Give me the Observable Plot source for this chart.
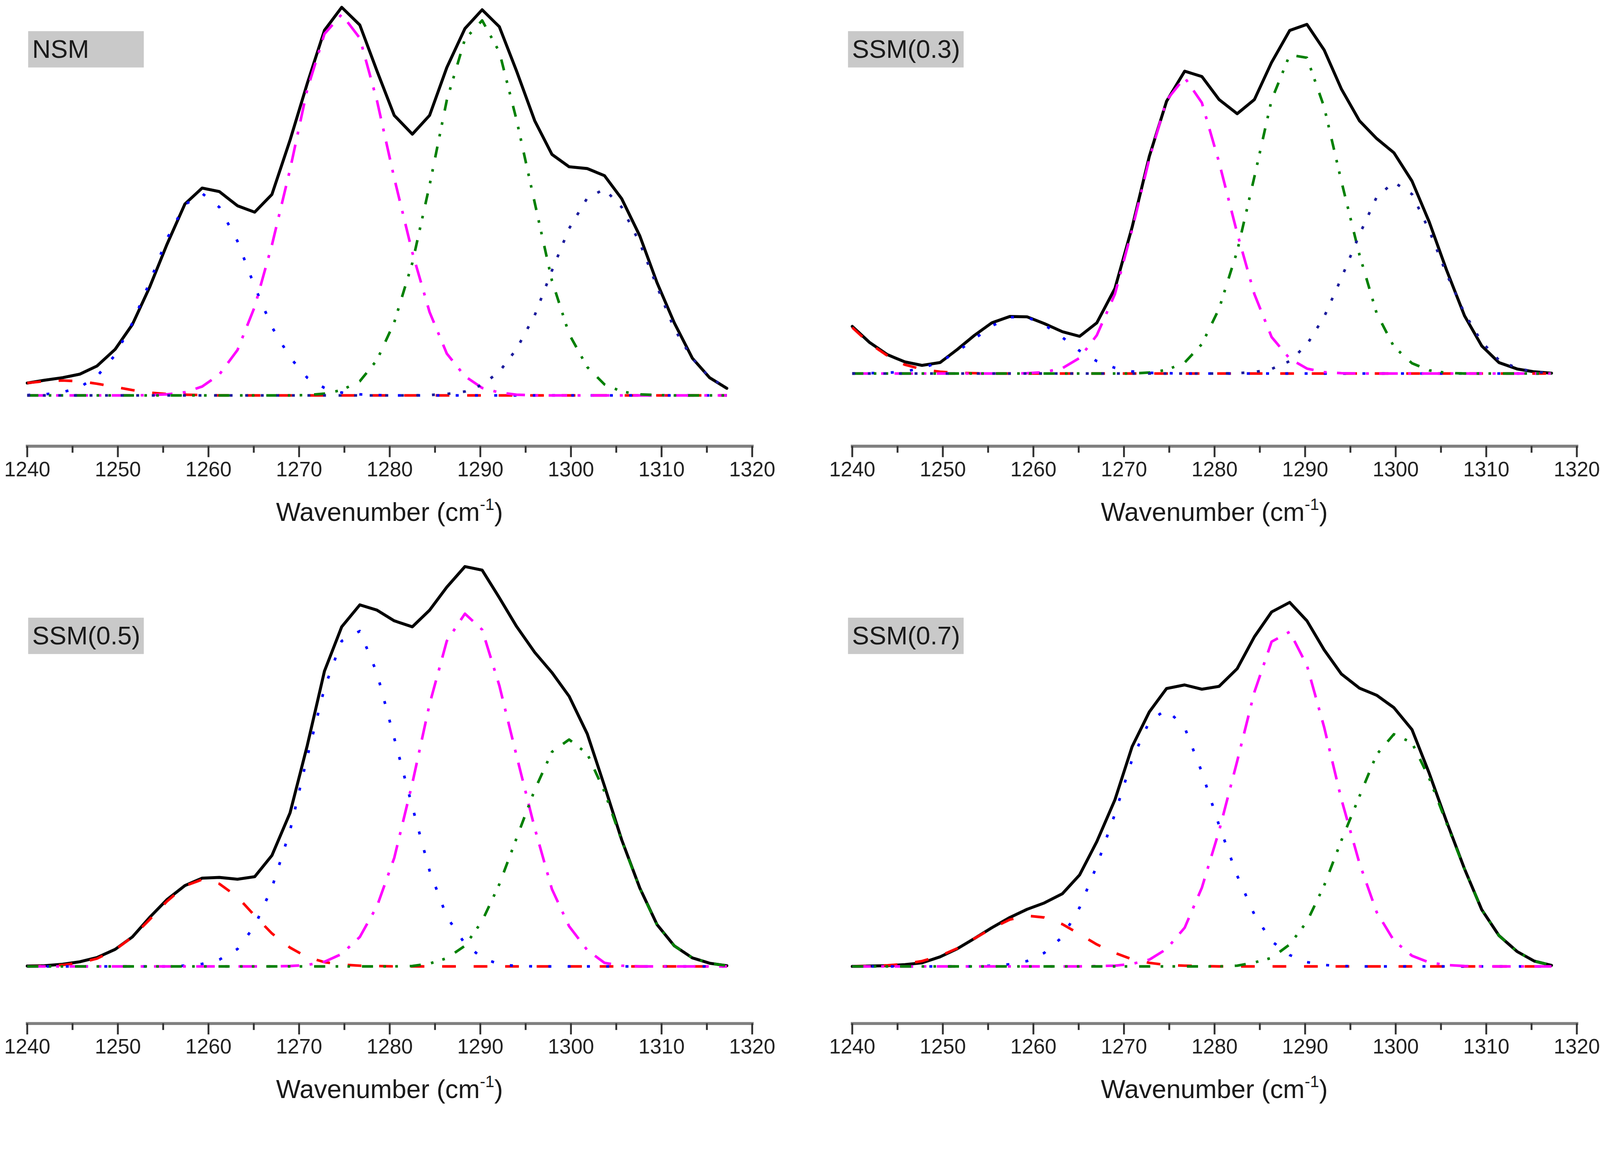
<!DOCTYPE html>
<html>
<head>
<meta charset="utf-8">
<script src="https://cdn.jsdelivr.net/npm/d3@7"></script>
<script src="https://cdn.jsdelivr.net/npm/@observablehq/plot@0.6"></script>
<style>
html, body { margin: 0; padding: 0; background: #ffffff; overflow: hidden; }
#page { position: absolute; left: 0; top: 0; width: 4317px; height: 2989px; background: #ffffff; overflow: hidden;
        transform-origin: 0 0; font-family: "Liberation Sans", Arial, sans-serif; }
.panel { position: absolute; width: 2158px; height: 1494px; }
.tag { position: absolute; background: #c9c9c9; color: #1a1a1a; font-size: 69px; height: 98px; line-height: 98px;
       width: 312px; padding-left: 11px; box-sizing: border-box; white-space: nowrap; }
.xtitle { position: absolute; font-size: 70px; line-height: 80px; color: #1a1a1a; white-space: nowrap; transform: translateX(-50%); }
.xtitle sup { font-size: 44px; line-height: 0; vertical-align: 30px; }
</style>
</head>
<body>
<div id="page"></div>
<script>
// ---- data (wavenumber grid, cm^-1) ----
const wavenumbers = [1240.0,1241.9,1243.9,1245.8,1247.7,1249.7,1251.6,1253.5,1255.4,1257.4,1259.3,1261.2,1263.2,1265.1,1267.0,1269.0,1270.9,1272.8,1274.7,1276.7,1278.6,1280.5,1282.5,1284.4,1286.3,1288.3,1290.2,1292.1,1294.0,1296.0,1297.9,1299.8,1301.8,1303.7,1305.6,1307.6,1309.5,1311.4,1313.4,1315.3,1317.2];

const majorTicks = [1240,1250,1260,1270,1280,1290,1300,1310,1320];
const minorTicks = [1245,1255,1265,1275,1285,1295,1305,1315];

const panelLabels = ["NSM", "SSM(0.3)", "SSM(0.5)", "SSM(0.7)"];
const axisTitle = "Wavenumber (cm";

// NSM
const nsmSum     = [35,43,50,60,83,130,200,305,425,540,585,575,535,517,567,720,880,1030,1095,1045,915,790,737,790,925,1035,1088,1040,915,775,680,645,640,620,555,450,318,205,105,50,20];
const nsmRed     = [35,40,42,40,33,24,15,8,4,2,1,0,0,0,0,0,0,0,0,0,0,0,0,0,0,0,0,0,0,0,0,0,0,0,0,0,0,0,0,0,0];
const nsmBlue    = [1,3,9,23,54,114,204,319,441,538,570,531,435,307,193,107,50,21,8,3,1,0,0,0,0,0,0,0,0,0,0,0,0,0,0,0,0,0,0,0,0];
const nsmMagenta = [0,0,0,0,0,0,0,1,3,9,25,59,128,250,424,637,863,1020,1075,1008,831,613,403,235,118,54,21,8,2,0,0,0,0,0,0,0,0,0,0,0,0];
const nsmGreen   = [0,0,0,0,0,0,0,0,0,0,0,0,0,0,0,0,1,5,15,40,100,206,374,593,833,1005,1058,969,777,544,324,173,80,31,11,3,1,0,0,0,0];
const nsmNavy    = [0,0,0,0,0,0,0,0,0,0,0,0,0,0,0,0,0,0,0,0,0,0,0,1,4,11,30,67,131,226,352,471,557,582,531,430,307,188,104,51,21];

// SSM(0.3)
const s03Sum     = [133,88,53,33,23,31,68,108,143,161,160,141,118,105,143,240,413,613,768,853,838,773,733,773,878,968,985,913,803,713,663,623,543,428,293,163,78,31,13,5,1];
const s03Red     = [130,85,50,25,12,5,2,1,0,0,0,0,0,0,0,0,0,0,0,0,0,0,0,0,0,0,0,0,0,0,0,0,0,0,0,0,0,0,0,0,0];
const s03Blue    = [0,1,2,6,15,33,62,98,134,159,159,138,102,64,35,16,6,2,1,0,0,0,0,0,0,0,0,0,0,0,0,0,0,0,0,0,0,0,0,0,0];
const s03Magenta = [0,0,0,0,0,0,0,0,0,0,1,4,15,44,108,224,406,606,771,835,764,596,396,224,103,42,14,4,1,0,0,0,0,0,0,0,0,0,0,0,0];
const s03Green   = [0,0,0,0,0,0,0,0,0,0,0,0,0,0,0,0,0,3,10,31,83,183,345,555,772,899,891,752,543,335,170,76,29,9,2,0,0,0,0,0,0];
const s03Navy    = [0,0,0,0,0,0,0,0,0,0,0,0,0,0,0,0,0,0,0,0,0,0,1,4,13,35,82,160,269,392,498,540,506,404,282,170,89,38,15,5,1];

// SSM(0.5)
const s05Sum     = [1,2,6,13,25,48,83,138,188,228,249,251,246,253,313,433,623,833,958,1020,1005,975,958,1005,1070,1128,1118,1040,959,886,829,762,656,509,357,221,118,58,24,9,2];
const s05Red     = [0,1,4,10,22,47,83,132,183,227,245,233,196,143,93,53,26,12,5,2,1,0,0,0,0,0,0,0,0,0,0,0,0,0,0,0,0,0,0,0,0];
const s05Blue    = [0,0,0,0,0,0,0,0,0,2,7,19,49,114,222,383,591,785,918,946,827,644,450,270,140,64,24,6,1,0,0,0,0,0,0,0,0,0,0,0,0];
const s05Magenta = [0,0,0,0,0,0,0,0,0,0,0,0,0,0,0,1,4,13,35,83,170,306,517,740,918,995,950,792,594,390,218,113,46,10,2,0,0,0,0,0,0];
const s05Green   = [0,0,0,0,0,0,0,0,0,0,0,0,0,0,0,0,0,0,0,0,0,0,1,8,23,58,128,232,362,498,605,640,600,493,355,220,117,58,24,9,2];

// SSM(0.7)
const s07Sum     = [0,1,2,5,10,27,50,79,109,138,161,179,205,258,352,470,620,718,784,794,782,790,840,930,1000,1027,975,893,825,785,765,730,668,545,410,275,160,87,42,15,3];
const s07Red     = [0,1,3,7,15,30,51,79,107,132,143,138,119,91,62,38,20,10,4,2,1,0,0,0,0,0,0,0,0,0,0,0,0,0,0,0,0,0,0,0,0];
const s07Blue    = [0,0,0,0,0,0,0,0,2,6,15,38,83,166,284,430,584,691,725,674,548,398,256,146,71,32,12,4,1,0,0,0,0,0,0,0,0,0,0,0,0];
const s07Magenta = [0,0,0,0,0,0,0,0,0,0,0,0,0,0,1,2,7,19,49,109,222,382,579,774,916,944,849,675,472,291,153,73,30,11,4,1,0,0,0,0,0];
const s07Green   = [0,0,0,0,0,0,0,0,0,0,0,0,0,0,0,0,0,0,0,0,0,0,2,11,24,62,126,228,355,480,598,655,631,531,405,275,160,87,42,15,3];

// ---- styles ----
const STY = {
  red:     {stroke: "#ff0000", dash: "37,48"},
  blue:    {stroke: "#0000ff", dash: "8,44"},
  magenta: {stroke: "#ff00ff", dash: "50,28,8,28"},
  green:   {stroke: "#008000", dash: "30,28,7,25,7,32"},
  navy:    {stroke: "#1c1c9c", dash: "8,34"}
};

const panels = [
  {left: 0,    top: 0,    ml: 73,  mr: 129, baseline: 1066, axisY: 1203, titleY: 1341, sum: nsmSum,
   comps: [["red", nsmRed], ["blue", nsmBlue], ["magenta", nsmMagenta], ["green", nsmGreen], ["navy", nsmNavy]]},
  {left: 2158, top: 0,    ml: 141, mr: 62,  baseline: 1007, axisY: 1203, titleY: 1341, sum: s03Sum,
   comps: [["red", s03Red], ["blue", s03Blue], ["magenta", s03Magenta], ["green", s03Green], ["navy", s03Navy]]},
  {left: 0,    top: 1494, ml: 73,  mr: 129, baseline: 1112, axisY: 1266, titleY: 1404, sum: s05Sum,
   comps: [["red", s05Red], ["blue", s05Blue], ["magenta", s05Magenta], ["green", s05Green]]},
  {left: 2158, top: 1494, ml: 141, mr: 62,  baseline: 1112, axisY: 1266, titleY: 1404, sum: s07Sum,
   comps: [["red", s07Red], ["blue", s07Blue], ["magenta", s07Magenta], ["green", s07Green]]}
];

const page = document.getElementById("page");
const W = 2158, H = 1494, pxPerUnit = 1 / 1.046;

panels.forEach((p, idx) => {
  const rows = arr => wavenumbers.map((x, i) => ({x, y: arr[i]}));
  const marks = [
    Plot.frame({anchor: "bottom", stroke: "#808080", strokeWidth: 8}),
    Plot.axisX(minorTicks, {anchor: "bottom", tickSize: 18, tickFormat: () => "", stroke: "#333333", strokeWidth: 5, label: null}),
    Plot.axisX(majorTicks, {anchor: "bottom", tickSize: 30, tickPadding: 11, tickFormat: d => String(d),
                            stroke: "#333333", strokeWidth: 5, fill: "#222222", fontSize: 56, label: null}),
    Plot.line(rows(p.sum), {x: "x", y: "y", stroke: "#000000", strokeWidth: 8, strokeLinejoin: "round"})
  ];
  p.comps.forEach(([key, arr]) => {
    marks.push(Plot.line(rows(arr), {x: "x", y: "y", stroke: STY[key].stroke, strokeWidth: 7,
      strokeDasharray: STY[key].dash, strokeLinecap: "butt"}));
  });
  const chart = Plot.plot({
    width: W, height: H,
    marginLeft: p.ml, marginRight: p.mr, marginTop: 0, marginBottom: H - p.axisY,
    x: {domain: [1240, 1320], label: null, axis: null},
    y: {domain: [0, 1000], range: [p.baseline, p.baseline - 1000 * pxPerUnit], axis: null, label: null},
    style: {fontFamily: '"Liberation Sans", Arial, sans-serif', fontSize: "56px", color: "#222222", background: "transparent", overflow: "visible"},
    marks
  });
  const div = document.createElement("div");
  div.className = "panel";
  div.style.left = p.left + "px";
  div.style.top = p.top + "px";
  div.appendChild(chart);

  const tag = document.createElement("div");
  tag.className = "tag";
  tag.style.left = (p.ml + 3 - (idx % 2 === 1 ? 14 : 0)) + "px";
  tag.style.top = (idx < 2 ? 84 : 172) + "px";
  tag.textContent = panelLabels[idx];
  div.appendChild(tag);

  const t = document.createElement("div");
  t.className = "xtitle";
  t.style.left = ((p.ml + (W - p.mr)) / 2) + "px";
  t.style.top = p.titleY + "px";
  t.innerHTML = axisTitle + "<sup>-1</sup>)";
  div.appendChild(t);

  page.appendChild(div);
});

// fit the 4317x2989 design into whatever viewport the page is shown in
function fit() {
  const s = Math.min(window.innerWidth / 4317, window.innerHeight / 2989);
  page.style.transform = s < 1 ? `scale(${s})` : "none";
}
fit();
window.addEventListener("resize", fit);
</script>
</body>
</html>
